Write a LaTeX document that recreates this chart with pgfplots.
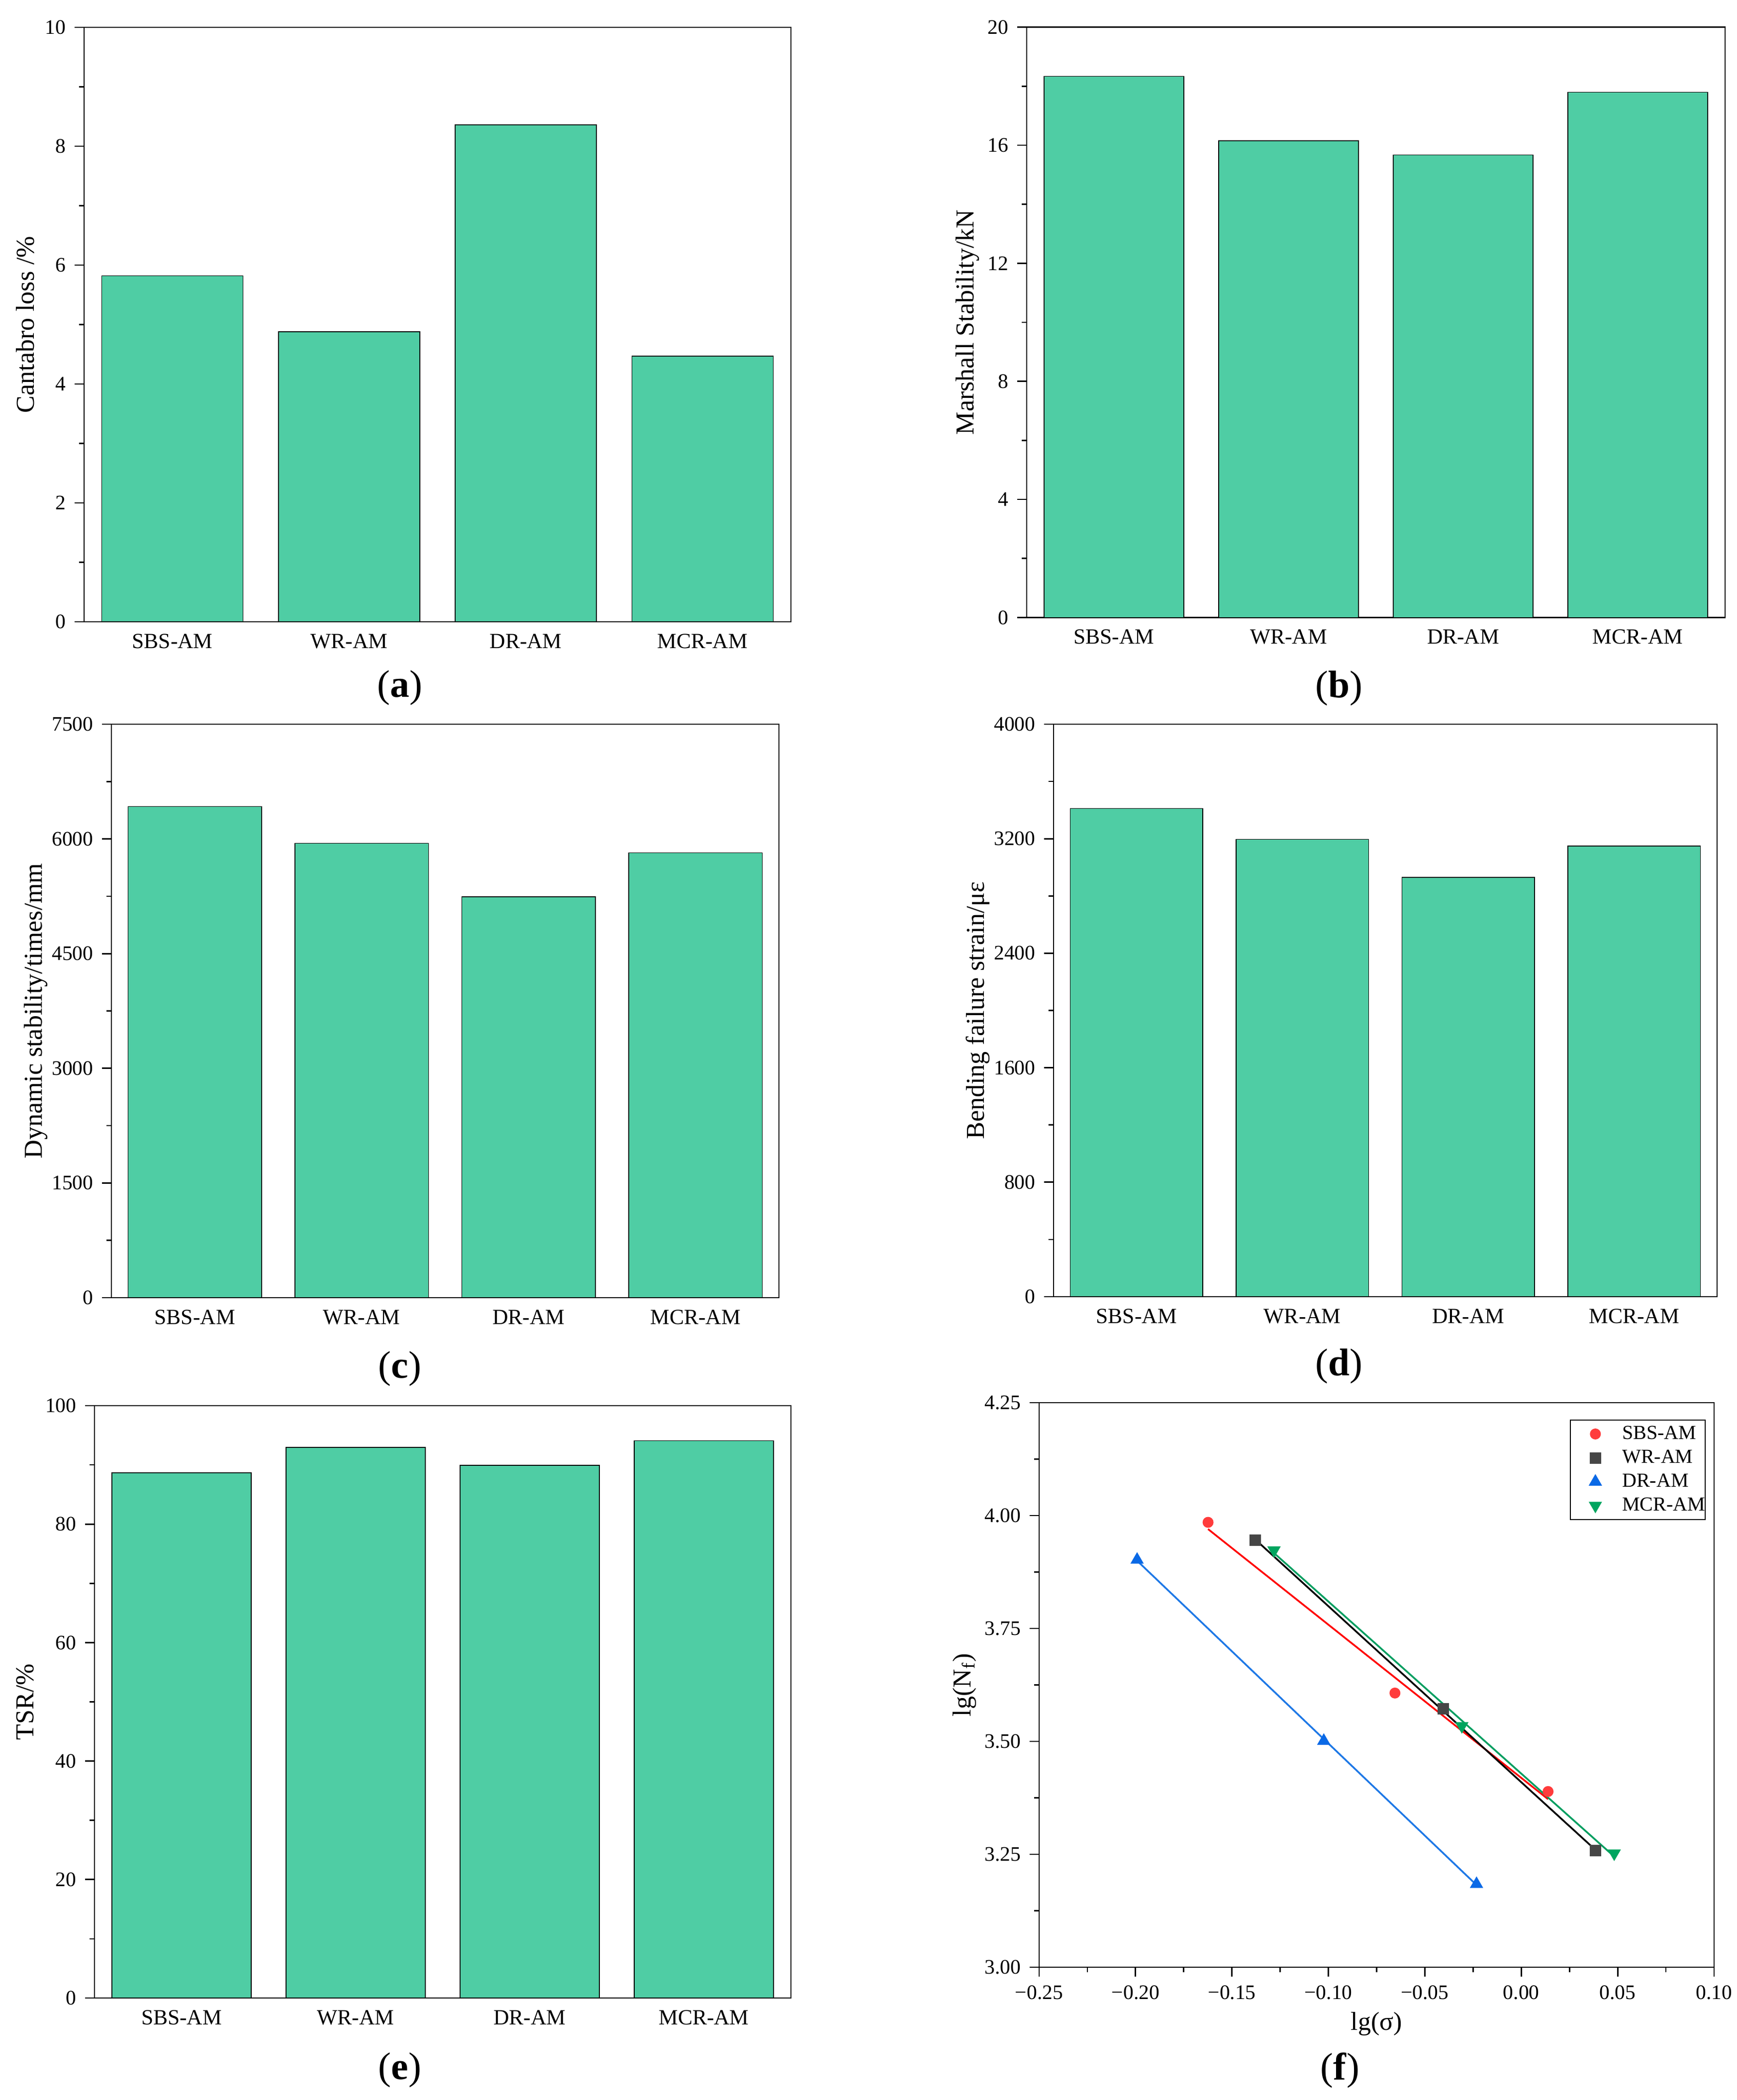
\documentclass[border=0pt]{standalone}
\usepackage{fontspec}
\setmainfont{Liberation Serif}
\usepackage{pgfplots}
\pgfplotsset{compat=1.18}
\definecolor{barg}{RGB}{79,205,164}
\definecolor{cred}{RGB}{255,60,60}
\definecolor{lred}{RGB}{255,0,0}
\definecolor{cgray}{RGB}{70,70,70}
\definecolor{cblue}{RGB}{10,105,230}
\definecolor{lblue}{RGB}{30,120,230}
\definecolor{cgreen}{RGB}{0,165,95}
\definecolor{lgreen}{RGB}{0,158,96}
\pgfplotsset{
  common/.style={scale only axis, anchor=south west, tick align=outside, tick pos=left,
    major tick length=3.8pt, minor tick length=2pt,
    axis line style={line width=0.55pt},
    every tick/.style={black, line width=0.55pt},
    /pgf/number format/assume math mode=true, /pgf/number format/1000 sep={},
    tick label style={font=\fontsize{8.3}{10}\selectfont},
    label style={font=\fontsize{10.4}{12}\selectfont},
    minor tick num=1},
  barchart/.style={common, ybar, bar width=0.8, bar shift=0pt, xmin=-0.5, xmax=3.5, ymin=0,
    xtick={0,1,2,3}, xticklabels={SBS-AM,WR-AM,DR-AM,MCR-AM},
    x tick label style={font=\fontsize{8.7}{10}\selectfont, yshift=2.4pt},
    xtick style={draw=none}, minor x tick num=0},
  barplot/.style={fill=barg, draw=black, line width=0.3pt},
  lgimg/.style={legend image code/.code={\path (-9.8pt,0pt) (10.6pt,0pt); \draw[##1] plot coordinates {(0pt,0pt)};}},
}
\begin{document}
\begin{tikzpicture}
\path[use as bounding box] (0,0) rectangle (698.4pt,844.4pt);
% (a)
\begin{axis}[barchart, at={(33.8pt,594.4pt)}, width=284.2pt, height=239pt,
  ymax=10, ytick={0,2,4,6,8,10},
  ylabel={Cantabro loss /\%}, ylabel style={at={(axis description cs:-0.083,0.5)}, anchor=center}]
\addplot[barplot] coordinates {(0,5.82) (1,4.88) (2,8.36) (3,4.47)};
\end{axis}
% (b)
\begin{axis}[barchart, at={(412.8pt,596.1pt)}, width=280.8pt, height=237.4pt,
  ymax=20, ytick={0,4,8,12,16,20},
  ylabel={Marshall Stability/kN}, ylabel style={at={(axis description cs:-0.0848,0.5)}, anchor=center}]
\addplot[barplot] coordinates {(0,18.33) (1,16.15) (2,15.67) (3,17.79)};
\end{axis}
% (c)
\begin{axis}[barchart, at={(44.8pt,322.6pt)}, width=268.4pt, height=230.6pt,
  ymax=7500, ytick={0,1500,3000,4500,6000,7500},
  ylabel={Dynamic stability/times/mm}, ylabel style={at={(axis description cs:-0.1133,0.5)}, anchor=center}]
\addplot[barplot] coordinates {(0,6422) (1,5942) (2,5243) (3,5818)};
\end{axis}
% (d)
\begin{axis}[barchart, at={(423.6pt,323.0pt)}, width=266.8pt, height=230.2pt,
  ymax=4000, ytick={0,800,1600,2400,3200,4000},
  ylabel={Bending failure strain/με}, ylabel style={at={(axis description cs:-0.114,0.5)}, anchor=center}]
\addplot[barplot] coordinates {(0,3411) (1,3196) (2,2930) (3,3149)};
\end{axis}
% (e)
\begin{axis}[barchart, at={(38.0pt,41.0pt)}, width=280pt, height=238.2pt,
  ymax=100, ytick={0,20,40,60,80,100},
  ylabel={TSR/\%}, ylabel style={at={(axis description cs:-0.0993,0.5)}, anchor=center}]
\addplot[barplot] coordinates {(0,88.66) (1,92.94) (2,89.91) (3,94.1)};
\end{axis}
% (f)
\begin{axis}[common, at={(417.8pt,53.4pt)}, width=271.4pt, height=227pt,
  xmin=-0.25, xmax=0.1, ymin=3, ymax=4.25,
  xtick={-0.25,-0.2,-0.15,-0.1,-0.05,0,0.05,0.1},
  xticklabels={−0.25,−0.20,−0.15,−0.10,−0.05,0.00,0.05,0.10},
  ytick={3,3.25,3.5,3.75,4,4.25},
  yticklabels={3.00,3.25,3.50,3.75,4.00,4.25},
  xlabel={lg(σ)}, xlabel style={at={(axis description cs:0.5,-0.1004)}, anchor=center},
  ylabel={lg(N\textsubscript{f})}, ylabel style={at={(axis description cs:-0.1105,0.5)}, anchor=center},
  legend style={at={(rel axis cs:1,1)}, anchor=north east, xshift=-3.4pt, yshift=-6.8pt,
    font=\fontsize{8}{9.6}\selectfont, draw=black, line width=0.4pt,
    inner xsep=0pt, inner ysep=1.8pt, row sep=2pt, column sep=0pt,
    nodes={inner sep=0pt, text height=5.8pt, text depth=1.8pt}},
  legend cell align=left]
\addplot[only marks, lgimg, mark=*, mark size=2pt, mark options={fill=cred, draw=cred}] coordinates {(-0.1624,3.985) (-0.0655,3.607) (0.0139,3.389)};
\addlegendentry{SBS-AM\hspace{1.4pt}}
\addplot[only marks, lgimg, mark=square*, mark size=2.1pt, mark options={fill=cgray, draw=cgray}] coordinates {(-0.1379,3.945) (-0.0405,3.572) (0.0384,3.258)};
\addlegendentry{WR-AM}
\addplot[only marks, lgimg, mark=triangle*, mark size=2.7pt, mark options={fill=cblue, draw=cblue}] coordinates {(-0.1992,3.902) (-0.1024,3.501) (-0.0232,3.184)};
\addlegendentry{DR-AM}
\addplot[only marks, lgimg, mark=triangle*, mark size=2.7pt, mark options={fill=cgreen, draw=cgreen, rotate=180}] coordinates {(-0.1282,3.923) (-0.0308,3.534) (0.0482,3.252)};
\addlegendentry{MCR-AM\hspace{1.4pt}}
\addplot[forget plot, lred, line width=0.7pt] coordinates {(-0.1624,3.970) (0.0139,3.372)};
\addplot[forget plot, black, line width=0.7pt] coordinates {(-0.1379,3.947) (0.0384,3.260)};
\addplot[forget plot, lblue, line width=0.7pt] coordinates {(-0.1992,3.900) (-0.0232,3.182)};
\addplot[forget plot, lgreen, line width=0.7pt] coordinates {(-0.1282,3.917) (0.0482,3.245)};
\end{axis}
\node[font=\fontsize{15.5}{18}\selectfont] at (160.8pt,567.8pt) {(\textbf{a})};
\node[font=\fontsize{15.5}{18}\selectfont] at (538.4pt,567.6pt) {(\textbf{b})};
\node[font=\fontsize{15.5}{18}\selectfont] at (160.8pt,294pt) {(\textbf{c})};
\node[font=\fontsize{15.5}{18}\selectfont] at (538.4pt,295pt) {(\textbf{d})};
\node[font=\fontsize{15.5}{18}\selectfont] at (160.8pt,12pt) {(\textbf{e})};
\node[font=\fontsize{15.5}{18}\selectfont] at (538.8pt,12pt) {(\textbf{f})};
\end{tikzpicture}
\end{document}
